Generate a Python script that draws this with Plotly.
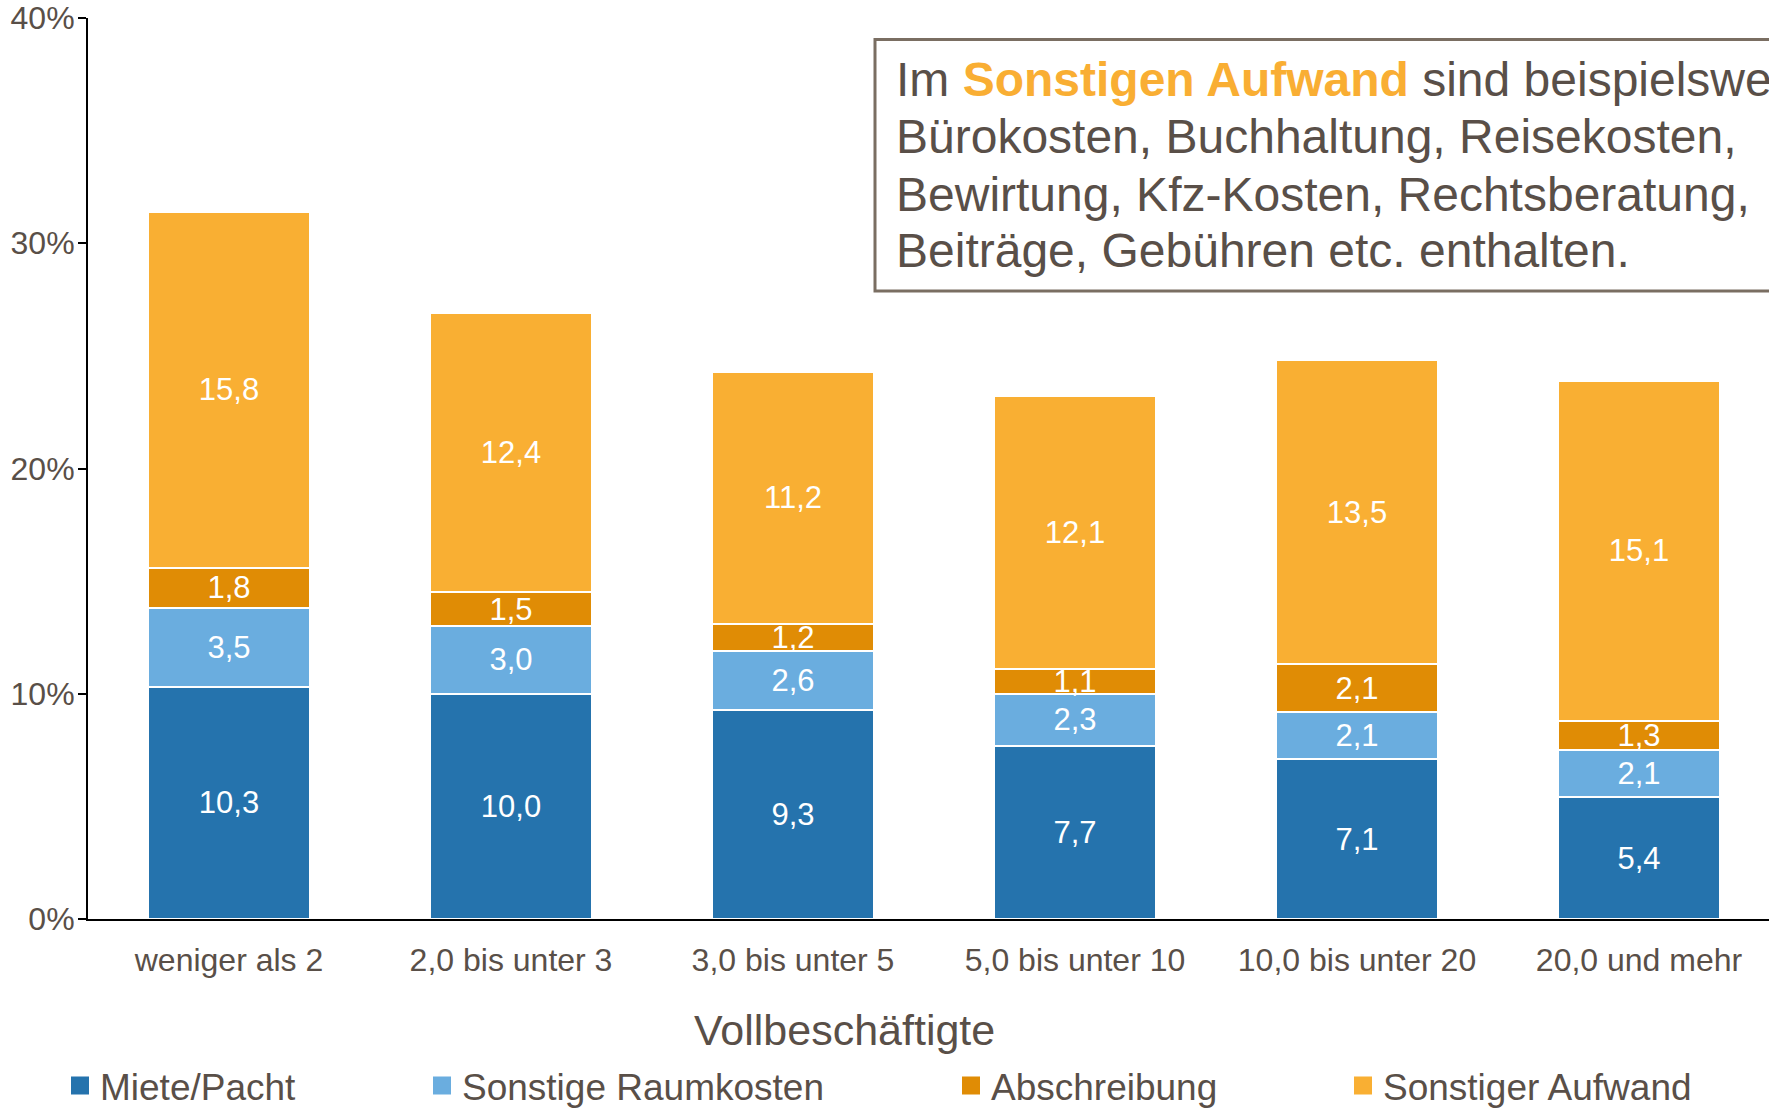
import plotly.graph_objects as go

categories = ["weniger als 2", "2,0 bis unter 3", "3,0 bis unter 5",
              "5,0 bis unter 10", "10,0 bis unter 20", "20,0 und mehr"]
miete = [10.3, 10.0, 9.3, 7.7, 7.1, 5.4]
raumkosten = [3.5, 3.0, 2.6, 2.3, 2.1, 2.1]
abschreibung = [1.8, 1.5, 1.2, 1.1, 2.1, 1.3]
sonstiger = [15.8, 12.4, 11.2, 12.1, 13.5, 15.1]
series_names = ["Miete/Pacht", "Sonstige Raumkosten", "Abschreibung", "Sonstiger Aufwand"]
y_ticks = [0, 10, 20, 30, 40]
box_lines = [
    "Im <b><span style='color:#F9AE33'>Sonstigen Aufwand</span></b> sind beispielsweise",
    "Bürokosten, Buchhaltung, Reisekosten,",
    "Bewirtung, Kfz-Kosten, Rechtsberatung,",
    "Beiträge, Gebühren etc. enthalten.",
]
x_title = "Vollbeschäftigte"

colors = ["#2573AD", "#6AADDF", "#E08C05", "#F9AF33"]
text_color = "#594F48"
font_family = "Liberation Sans, Arial, sans-serif"

W, H = 1769, 1108
L, R, T, B = 88, 0, 18, 189

fig = go.Figure()
values = [miete, raumkosten, abschreibung, sonstiger]
legend_ids = ["legend", "legend2", "legend3", "legend4"]
for name, vals, col in zip(series_names, values, colors):
    fig.add_trace(go.Bar(
        x=categories, y=vals, name=name, showlegend=False,
        marker=dict(color=col, line=dict(color="white", width=2)),
        texttemplate="%{y:.1f}", textposition="inside", insidetextanchor="middle",
        textangle=0, textfont=dict(color="white", size=31, family=font_family),
        hovertemplate=name + ": %{y:.1f}<extra></extra>",
    ))

# legend proxies
for name, col, lid in zip(series_names, colors, legend_ids):
    fig.add_trace(go.Scatter(
        x=[None], y=[None], mode="markers", name=name, legend=lid,
        marker=dict(symbol="square", size=18, color=col,
                    line=dict(color=col, width=2)),
        showlegend=True, hoverinfo="skip",
    ))

legend_px = [60, 422, 951, 1343]
legend_common = dict(orientation="h", xref="container", yref="container",
                     xanchor="left", yanchor="middle", y=1 - 1086 / H,
                     bgcolor="rgba(0,0,0,0)", borderwidth=0,
                     font=dict(size=37, color=text_color, family=font_family))
legends = {}
for lid, px in zip(legend_ids, legend_px):
    legends[lid] = dict(legend_common, x=px / W)

plot_w = W - L - R
plot_h = H - T - B

fig.update_layout(
    width=W, height=H,
    margin=dict(l=L, r=R, t=T, b=B, pad=0, autoexpand=False),
    paper_bgcolor="white", plot_bgcolor="white",
    barmode="stack", bargap=0.426,
    separators=",.",
    uniformtext=dict(minsize=31, mode="show"),
    font=dict(family=font_family, color=text_color),
    **legends,
)

fig.update_xaxes(
    type="category", range=[-0.5, 5.5 - 11 / 282], automargin=False,
    showline=True, linecolor="#000000", linewidth=2,
    ticks="", showgrid=False, zeroline=False,
    tickfont=dict(size=32, color=text_color, family=font_family),
    ticklabelstandoff=12,
)
fig.update_yaxes(
    range=[0, 40], tickvals=y_ticks, ticktext=[f"{v}%" for v in y_ticks],
    automargin=False,
    showline=True, linecolor="#000000", linewidth=2,
    ticks="outside", ticklen=8, tickwidth=2, tickcolor="#000000",
    showgrid=False, zeroline=False,
    tickfont=dict(size=32, color=text_color, family=font_family),
    ticklabelstandoff=-3,
)


def px_to_paper_x(px):
    return (px - L) / plot_w


def px_to_paper_y(py):
    return (H - B - py) / plot_h


fig.add_shape(type="rect", xref="paper", yref="paper",
              x0=px_to_paper_x(875), x1=px_to_paper_x(1800),
              y0=px_to_paper_y(291), y1=px_to_paper_y(39.5),
              line=dict(color="#7A6E62", width=3), fillcolor="white", layer="above")

line_centers = [79, 136.5, 194, 250.5]
for txt, cy in zip(box_lines, line_centers):
    fig.add_annotation(text=txt, xref="paper", yref="paper",
                       x=px_to_paper_x(894), y=px_to_paper_y(cy),
                       xanchor="left", yanchor="middle", showarrow=False,
                       font=dict(size=48, color=text_color, family=font_family))

fig.add_annotation(text=x_title, xref="paper", yref="paper",
                   x=px_to_paper_x(844), y=px_to_paper_y(1030),
                   xanchor="center", yanchor="middle", showarrow=False,
                   font=dict(size=43, color=text_color, family=font_family))

fig.write_html("out.html", config={"displayModeBar": False},
               post_script="document.body.style.margin='0';"
                           "document.body.style.overflow='hidden';")
